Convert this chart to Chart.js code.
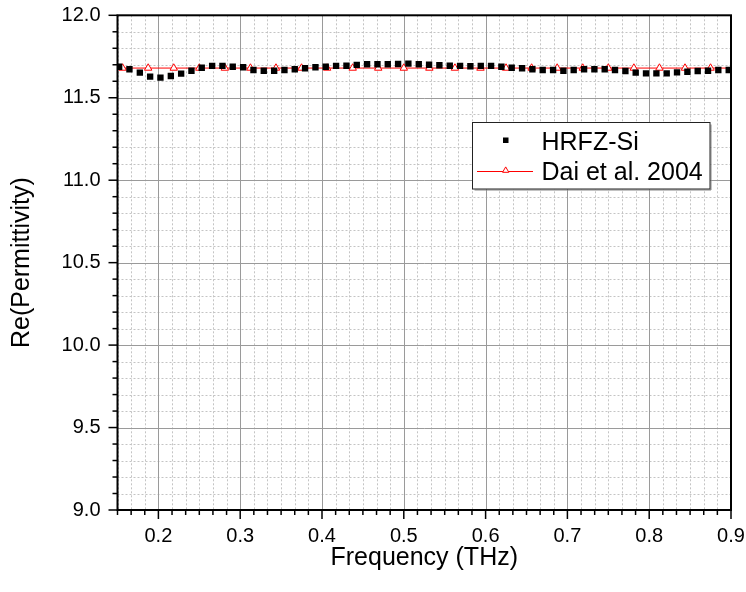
<!DOCTYPE html>
<html>
<head>
<meta charset="utf-8">
<script src="https://cdn.jsdelivr.net/npm/chart.js@4/dist/chart.umd.min.js"></script>
<style>
  html, body { margin: 0; padding: 0; background: #fff; }
  #wrap { width: 746px; height: 592px; }
</style>
</head>
<body>
<div id="wrap"><canvas id="c" width="746" height="592"></canvas></div>
<script>
// ---- data ----
const seriesLabels = ['HRFZ-Si', 'Dai et al. 2004'];

const hrfzFreq = [
  0.1520, 0.1646, 0.1773, 0.1899, 0.2025, 0.2152, 0.2278, 0.2404, 0.2530, 0.2657,
  0.2783, 0.2909, 0.3036, 0.3162, 0.3288, 0.3415, 0.3541, 0.3667, 0.3793, 0.3920,
  0.4046, 0.4172, 0.4299, 0.4425, 0.4551, 0.4678, 0.4804, 0.4930, 0.5056, 0.5183,
  0.5309, 0.5435, 0.5562, 0.5688, 0.5814, 0.5941, 0.6067, 0.6193, 0.6319, 0.6446,
  0.6572, 0.6698, 0.6825, 0.6951, 0.7077, 0.7204, 0.7330, 0.7456, 0.7582, 0.7709,
  0.7835, 0.7961, 0.8088, 0.8214, 0.8340, 0.8467, 0.8593, 0.8719, 0.8845, 0.8972
];
const hrfzPerm = [
  11.688, 11.673, 11.652, 11.628, 11.622, 11.632, 11.646, 11.664, 11.682, 11.693,
  11.693, 11.688, 11.685, 11.668, 11.664, 11.664, 11.668, 11.673, 11.679, 11.685,
  11.688, 11.693, 11.694, 11.699, 11.703, 11.703, 11.703, 11.705, 11.707, 11.703,
  11.700, 11.697, 11.694, 11.693, 11.691, 11.693, 11.693, 11.688, 11.682, 11.679,
  11.673, 11.668, 11.668, 11.664, 11.668, 11.673, 11.673, 11.673, 11.668, 11.662,
  11.652, 11.648, 11.648, 11.648, 11.654, 11.658, 11.662, 11.664, 11.668, 11.668
];

const daiFreq = [
  0.125, 0.15625, 0.1875, 0.21875, 0.25, 0.28125, 0.3125, 0.34375, 0.375, 0.40625,
  0.4375, 0.46875, 0.5, 0.53125, 0.5625, 0.59375, 0.625, 0.65625, 0.6875, 0.71875,
  0.75, 0.78125, 0.8125, 0.84375, 0.875, 0.90625
];
const daiPerm = [
  11.68, 11.68, 11.68, 11.68, 11.68, 11.68, 11.68, 11.68, 11.68, 11.68,
  11.68, 11.68, 11.68, 11.68, 11.68, 11.68, 11.68, 11.68, 11.68, 11.68,
  11.68, 11.68, 11.68, 11.68, 11.68, 11.68
];

const xTickValues = [0.2, 0.3, 0.4, 0.5, 0.6, 0.7, 0.8, 0.9];
const yTickValues = [9.0, 9.5, 10.0, 10.5, 11.0, 11.5, 12.0];
const xTitle = 'Frequency (THz)';
const yTitle = 'Re(Permittivity)';

// ---- chart ----
const FONT = "'Liberation Sans', Arial, Helvetica, sans-serif";
Chart.defaults.font.family = FONT;
Chart.defaults.color = '#000';

const X_MIN = 0.15, X_MAX = 0.9, Y_MIN = 9, Y_MAX = 12;

const framePlugin = {
  id: 'frame',
  beforeDatasetsDraw(chart) {
    const { ctx, chartArea: a, scales: { x, y } } = chart;
    ctx.save();
    ctx.beginPath();
    ctx.rect(a.left, a.top, a.right - a.left, a.bottom - a.top);
    ctx.clip();
    // minor dotted grid
    ctx.strokeStyle = '#c4c4c4';
    ctx.lineWidth = 1;
    ctx.setLineDash([2, 2]);
    for (let k = 0; k <= 45; k++) {
      if (k % 6 === 3) continue;
      const px = Math.round(x.getPixelForValue(X_MIN + k * 0.1 / 6)) + 0.5;
      ctx.beginPath(); ctx.moveTo(px, a.top); ctx.lineTo(px, a.bottom); ctx.stroke();
    }
    for (let k = 0; k <= 30; k++) {
      if (k % 5 === 0) continue;
      const py = Math.round(y.getPixelForValue(Y_MIN + k * 0.1)) + 0.5;
      ctx.beginPath(); ctx.moveTo(a.left, py); ctx.lineTo(a.right, py); ctx.stroke();
    }
    // major solid grid
    ctx.setLineDash([]);
    ctx.strokeStyle = '#9a9a9a';
    xTickValues.forEach(v => {
      const px = Math.round(x.getPixelForValue(v)) + 0.5;
      ctx.beginPath(); ctx.moveTo(px, a.top); ctx.lineTo(px, a.bottom); ctx.stroke();
    });
    yTickValues.forEach(v => {
      const py = Math.round(y.getPixelForValue(v)) + 0.5;
      ctx.beginPath(); ctx.moveTo(a.left, py); ctx.lineTo(a.right, py); ctx.stroke();
    });
    ctx.restore();
  },
  afterDatasetsDraw(chart) {
    const { ctx, chartArea: a, scales: { x, y } } = chart;
    ctx.save();
    ctx.strokeStyle = '#000';
    ctx.lineWidth = 2;
    ctx.strokeRect(a.left, a.top, a.right - a.left, a.bottom - a.top);
    // ticks (outward, bottom + left only)
    ctx.lineWidth = 1.5;
    for (let k = 0; k <= 45; k++) {
      const px = x.getPixelForValue(X_MIN + k * 0.1 / 6);
      const len = (k % 6 === 3) ? 9 : 5;
      ctx.beginPath(); ctx.moveTo(px, a.bottom); ctx.lineTo(px, a.bottom + len); ctx.stroke();
    }
    for (let k = 0; k <= 30; k++) {
      const py = y.getPixelForValue(Y_MIN + k * 0.1);
      const len = (k % 5 === 0) ? 9 : 5;
      ctx.beginPath(); ctx.moveTo(a.left, py); ctx.lineTo(a.left - len, py); ctx.stroke();
    }
    // legend box
    const L = 472.5, T = 122.5, W = 237.5, H = 66.5;
    ctx.fillStyle = '#fff';
    ctx.fillRect(L, T, W, H);
    ctx.strokeStyle = '#888';
    ctx.lineWidth = 1;
    ctx.beginPath(); ctx.moveTo(L + 2, T + H + 1); ctx.lineTo(L + W + 1, T + H + 1); ctx.lineTo(L + W + 1, T + 2); ctx.stroke();
    ctx.strokeStyle = '#222';
    ctx.strokeRect(L, T, W, H);
    // entry 1: square
    ctx.fillStyle = '#000';
    ctx.fillRect(503, 137.5, 5.5, 5.5);
    // entry 2: red line + open triangle
    ctx.strokeStyle = '#ff0000';
    ctx.lineWidth = 1;
    ctx.beginPath(); ctx.moveTo(477, 171.5); ctx.lineTo(533, 171.5); ctx.stroke();
    const tx = 505.7, ty = 170.5, r = 3.6;
    ctx.fillStyle = '#fff';
    ctx.beginPath();
    ctx.moveTo(tx, ty - r);
    ctx.lineTo(tx + r * 0.866, ty + r * 0.5);
    ctx.lineTo(tx - r * 0.866, ty + r * 0.5);
    ctx.closePath(); ctx.fill(); ctx.stroke();
    ctx.fillStyle = '#000';
    ctx.font = '25px ' + FONT;
    ctx.textBaseline = 'alphabetic';
    ctx.textAlign = 'left';
    ctx.fillText(chart.data.datasets[0].label, 541.5, 149.5);
    ctx.fillText(chart.data.datasets[1].label, 541.5, 179.5);
    ctx.restore();
  }
};

new Chart(document.getElementById('c'), {
  type: 'scatter',
  data: {
    datasets: [
      {
        label: seriesLabels[0],
        data: hrfzFreq.map((f, i) => ({ x: f, y: hrfzPerm[i] })),
        showLine: false,
        pointStyle: 'rect',
        pointRadius: 4.5,
        pointBackgroundColor: '#000',
        pointBorderColor: '#000',
        pointBorderWidth: 0,
        order: 0
      },
      {
        label: seriesLabels[1],
        data: daiFreq.map((f, i) => ({ x: f, y: daiPerm[i] })),
        showLine: true,
        borderColor: '#ff0000',
        borderWidth: 1,
        pointStyle: 'triangle',
        pointRadius: 4.3,
        pointBackgroundColor: '#fff',
        pointBorderColor: '#ff0000',
        pointBorderWidth: 1,
        order: 1
      }
    ]
  },
  options: {
    responsive: false,
    animation: false,
    devicePixelRatio: 1,
    layout: { padding: { left: 0, top: 15.3, right: 15, bottom: 0 } },
    plugins: { legend: { display: false }, tooltip: { enabled: false } },
    scales: {
      x: {
        type: 'linear', min: X_MIN, max: X_MAX,
        afterBuildTicks: s => { s.ticks = xTickValues.map(v => ({ value: v })); },
        afterFit: s => { s.height = 82; s.paddingLeft = 0; s.paddingRight = 0; },
        grid: { display: false, drawTicks: false },
        border: { display: false },
        ticks: { callback: v => Number(v).toFixed(1), padding: 14, font: { size: 20 }, color: '#000', maxRotation: 0, autoSkip: false },
        title: { display: true, text: xTitle, font: { size: 25 }, color: '#000', padding: { top: 0, bottom: 19 } }
      },
      y: {
        type: 'linear', min: Y_MIN, max: Y_MAX,
        afterBuildTicks: s => { s.ticks = yTickValues.map(v => ({ value: v })); },
        afterFit: s => { s.width = 117.5; s.paddingTop = 0; s.paddingBottom = 0; },
        grid: { display: false, drawTicks: false },
        border: { display: false },
        ticks: { callback: v => Number(v).toFixed(1), padding: 17, font: { size: 20 }, color: '#000', autoSkip: false },
        title: { display: true, text: yTitle, font: { size: 25 }, color: '#000', padding: { top: 7, bottom: 0 } }
      }
    }
  },
  plugins: [framePlugin]
});
</script>
</body>
</html>
